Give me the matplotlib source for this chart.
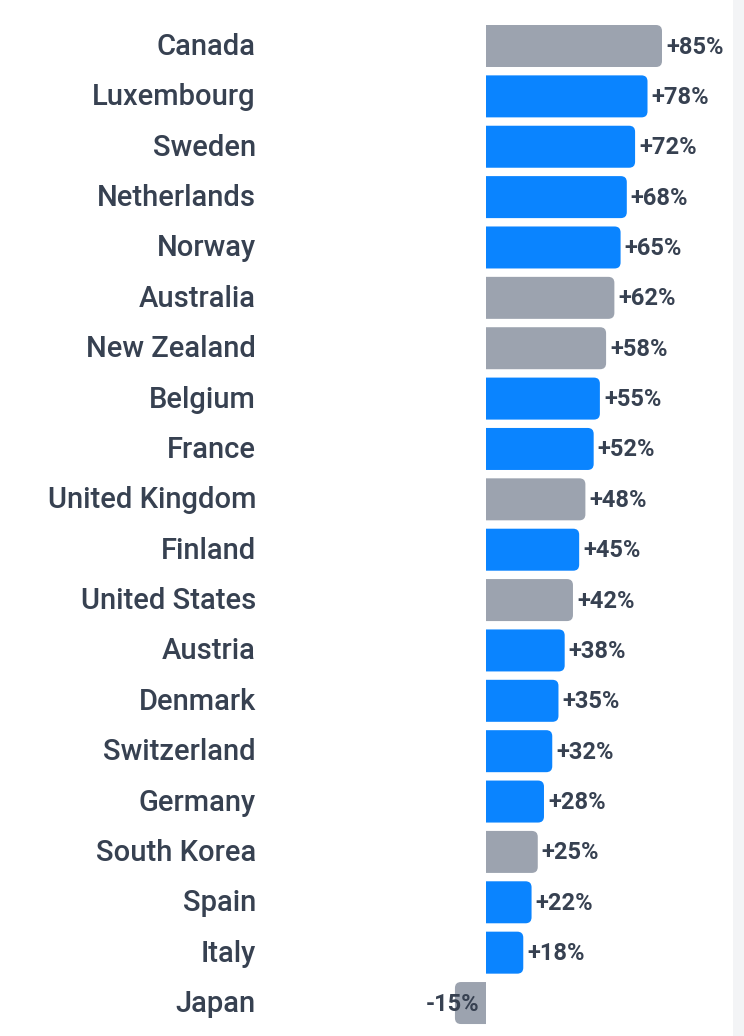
import matplotlib
matplotlib.use('Agg')
import matplotlib.pyplot as plt
from matplotlib.patches import PathPatch, Rectangle
from matplotlib.path import Path

countries = ['Canada', 'Luxembourg', 'Sweden', 'Netherlands', 'Norway', 'Australia',
             'New Zealand', 'Belgium', 'France', 'United Kingdom', 'Finland',
             'United States', 'Austria', 'Denmark', 'Switzerland', 'Germany',
             'South Korea', 'Spain', 'Italy', 'Japan']
values = [85, 78, 72, 68, 65, 62, 58, 55, 52, 48, 45, 42, 38, 35, 32, 28, 25, 22, 18, -15]
highlight = [False, True, True, True, True, False, False, True, True, False,
             True, False, True, True, True, True, False, True, True, False]

BLUE = '#0a84ff'
GRAY = '#9ca3af'
TEXT = '#374151'

plt.rcParams['font.family'] = ['Roboto', 'DejaVu Sans']

W, H = 744, 1036
fig = plt.figure(figsize=(W / 100, H / 100), dpi=100)
ax = fig.add_axes([0, 0, 1, 1])

# pixel mapping: zero at x=486, 85 -> 662; rows 46px + 50.37px step
px_x = 176 / 85
px_y = 50.37
ax.set_xlim(-486 / px_x, (W - 486) / px_x)
ax.set_ylim((H - 46) / px_y, -46 / px_y)
ax.axis('off')

bar_h = 42 / px_y
rx = 6 / px_x
ry = 6 / px_y
dy = 1 / px_y  # text sits a touch lower than bar centre


def bar_path(v, yc):
    # bar from 0 to v, square at zero, rounded at the far end
    y0, y1 = yc - bar_h / 2, yc + bar_h / 2
    s = 1 if v >= 0 else -1
    e = v
    verts = [(0, y0), (e - s * rx, y0), (e, y0), (e, y0 + ry),
             (e, y1 - ry), (e, y1), (e - s * rx, y1), (0, y1), (0, y0)]
    codes = [Path.MOVETO, Path.LINETO, Path.CURVE3, Path.CURVE3,
             Path.LINETO, Path.CURVE3, Path.CURVE3, Path.LINETO, Path.CLOSEPOLY]
    return Path(verts, codes)


for i, (name, v, hl) in enumerate(zip(countries, values, highlight)):
    c = BLUE if hl else GRAY
    ax.add_patch(PathPatch(bar_path(v, i), fc=c, ec='none', lw=0))

    ax.text(-230 / px_x, i + dy, name, ha='right', va='center', fontsize=21,
            fontweight='medium', color=TEXT)
    if v >= 0:
        ax.text(v + 4 / px_x, i + dy, f'+{v}%', ha='left', va='center', fontsize=17,
                fontweight='bold', color=TEXT)
    else:
        ax.text(v + 24 / px_x, i + dy, f'{v}%', ha='right', va='center', fontsize=17,
                fontweight='bold', color=TEXT, zorder=5)

# light strip on the right edge
fig.patches.append(Rectangle((733 / W, 0), 11 / W, 1, transform=fig.transFigure,
                             fc='#f3f4f6', ec='none'))

fig.savefig('out.png', dpi=100)
